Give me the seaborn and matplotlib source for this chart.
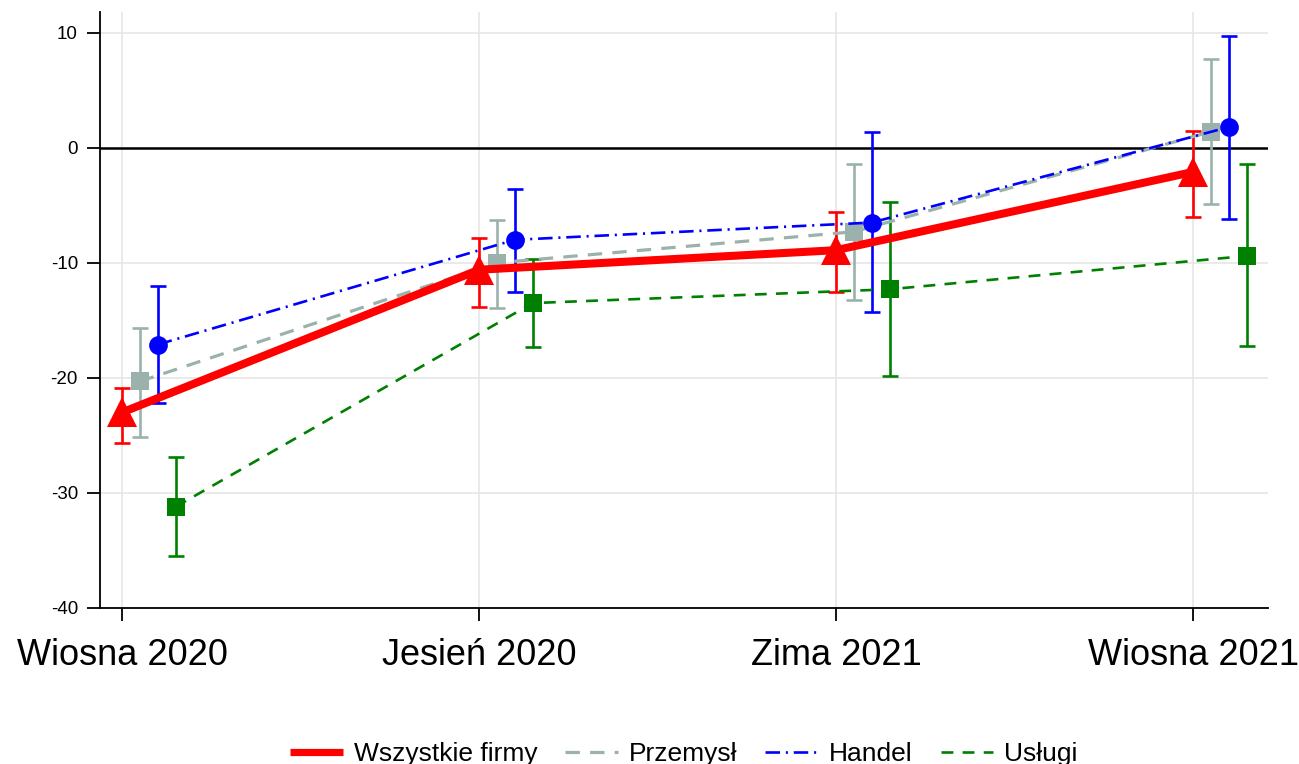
import matplotlib
matplotlib.use("Agg")
import matplotlib.pyplot as plt
from matplotlib.lines import Line2D
import numpy as np
import pandas as pd
import seaborn as sns

# Survey waves
periods = ["Wiosna 2020", "Jesień 2020", "Zima 2021", "Wiosna 2021"]

# Point estimates and confidence bounds per group
wszystkie = [-23.0, -10.6, -8.9, -2.1]
wszystkie_lo = [-25.7, -13.8, -12.5, -6.0]
wszystkie_hi = [-20.9, -7.8, -5.6, 1.5]

przemysl = [-20.3, -10.0, -7.3, 1.4]
przemysl_lo = [-25.1, -13.9, -13.2, -4.9]
przemysl_hi = [-15.7, -6.3, -1.4, 7.7]

handel = [-17.1, -8.0, -6.5, 1.8]
handel_lo = [-22.2, -12.5, -14.3, -6.2]
handel_hi = [-12.0, -3.6, 1.4, 9.7]

uslugi = [-31.2, -13.5, -12.3, -9.4]
uslugi_lo = [-35.5, -17.3, -19.8, -17.2]
uslugi_hi = [-26.9, -9.7, -4.7, -1.4]

series_names = ["Wszystkie firmy", "Przemysł", "Handel", "Usługi"]

sns.set_theme(style="white")
plt.rcParams["font.family"] = ["Liberation Sans", "DejaVu Sans"]
plt.rcParams["text.color"] = "black"
plt.rcParams["xtick.color"] = "black"
plt.rcParams["ytick.color"] = "black"
plt.rcParams["xtick.labelcolor"] = "black"
plt.rcParams["ytick.labelcolor"] = "black"

fig = plt.figure(figsize=(12.99, 7.64), dpi=100)
ax = fig.add_axes([100 / 1299, (764 - 608) / 764, 1168 / 1299, 596 / 764])

base = np.arange(len(periods), dtype=float)

specs = [
    dict(vals=wszystkie, lo=wszystkie_lo, hi=wszystkie_hi, off=0.0, color="#ff0000",
         lw=5.8, ls="-", marker="^", ms=21, z=6),
    dict(vals=przemysl, lo=przemysl_lo, hi=przemysl_hi, off=0.05, color="#9bb2ac",
         lw=2.3, ls=(0, (4.5, 3.2)), marker="s", ms=13.5, z=5),
    dict(vals=handel, lo=handel_lo, hi=handel_hi, off=0.10, color="#0000ff",
         lw=1.9, ls=(0, (5.5, 2.2, 0.8, 2.2)), marker="o", ms=13.5, z=5),
    dict(vals=uslugi, lo=uslugi_lo, hi=uslugi_hi, off=0.15, color="#008000",
         lw=1.9, ls=(0, (4.5, 3.5)), marker="s", ms=13.5, z=5),
]

for name, sp in zip(series_names, specs):
    x = base + sp["off"]
    vals = np.array(sp["vals"])
    lo = np.array(sp["lo"])
    hi = np.array(sp["hi"])
    ax.errorbar(x, vals, yerr=[vals - lo, hi - vals], fmt="none",
                ecolor=sp["color"], elinewidth=1.9, capsize=5.5, capthick=1.9,
                zorder=sp["z"] - 1)
    df = pd.DataFrame({"x": x, "y": vals})
    sns.lineplot(data=df, x="x", y="y", ax=ax, color=sp["color"],
                 linewidth=sp["lw"], linestyle=sp["ls"], marker=sp["marker"],
                 markersize=sp["ms"], markeredgewidth=0, estimator=None,
                 sort=False, legend=False, zorder=sp["z"])

# Reference line at zero
ax.axhline(0, color="black", lw=1.8, zorder=3)

ax.set_xlim(-0.062, 3.21)
ax.set_ylim(-40, 11.8)
ax.set_xticks(base)
ax.set_xticklabels(periods, fontsize=26)
ax.set_yticks([-40, -30, -20, -10, 0, 10])
ax.set_yticklabels(["-40", "-30", "-20", "-10", "0", "10"], fontsize=13.5)
ax.set_xlabel("")
ax.set_ylabel("")

ax.grid(True, color="#e6e6e6", lw=1.2, zorder=0)
ax.set_axisbelow(True)
for side in ["top", "right"]:
    ax.spines[side].set_visible(False)
for side in ["left", "bottom"]:
    ax.spines[side].set_color("black")
    ax.spines[side].set_linewidth(1.3)
ax.tick_params(axis="both", which="both", direction="out", color="black",
               length=9.4, width=1.3, bottom=True, left=True)
ax.tick_params(axis="x", pad=12)
ax.tick_params(axis="y", pad=6.5)

handles = [
    Line2D([], [], color=sp["color"], lw=(sp["lw"] if i else 5.2), linestyle=sp["ls"],
           solid_capstyle="butt", dash_capstyle="butt")
    for i, sp in enumerate(specs)
]
ax.legend(handles, series_names, loc="center", bbox_to_anchor=(0.5, -0.2450),
          ncol=4, frameon=False, fontsize=19, handlelength=2.0,
          handletextpad=0.42, columnspacing=1.05)

fig.savefig("out.png", dpi=100)
